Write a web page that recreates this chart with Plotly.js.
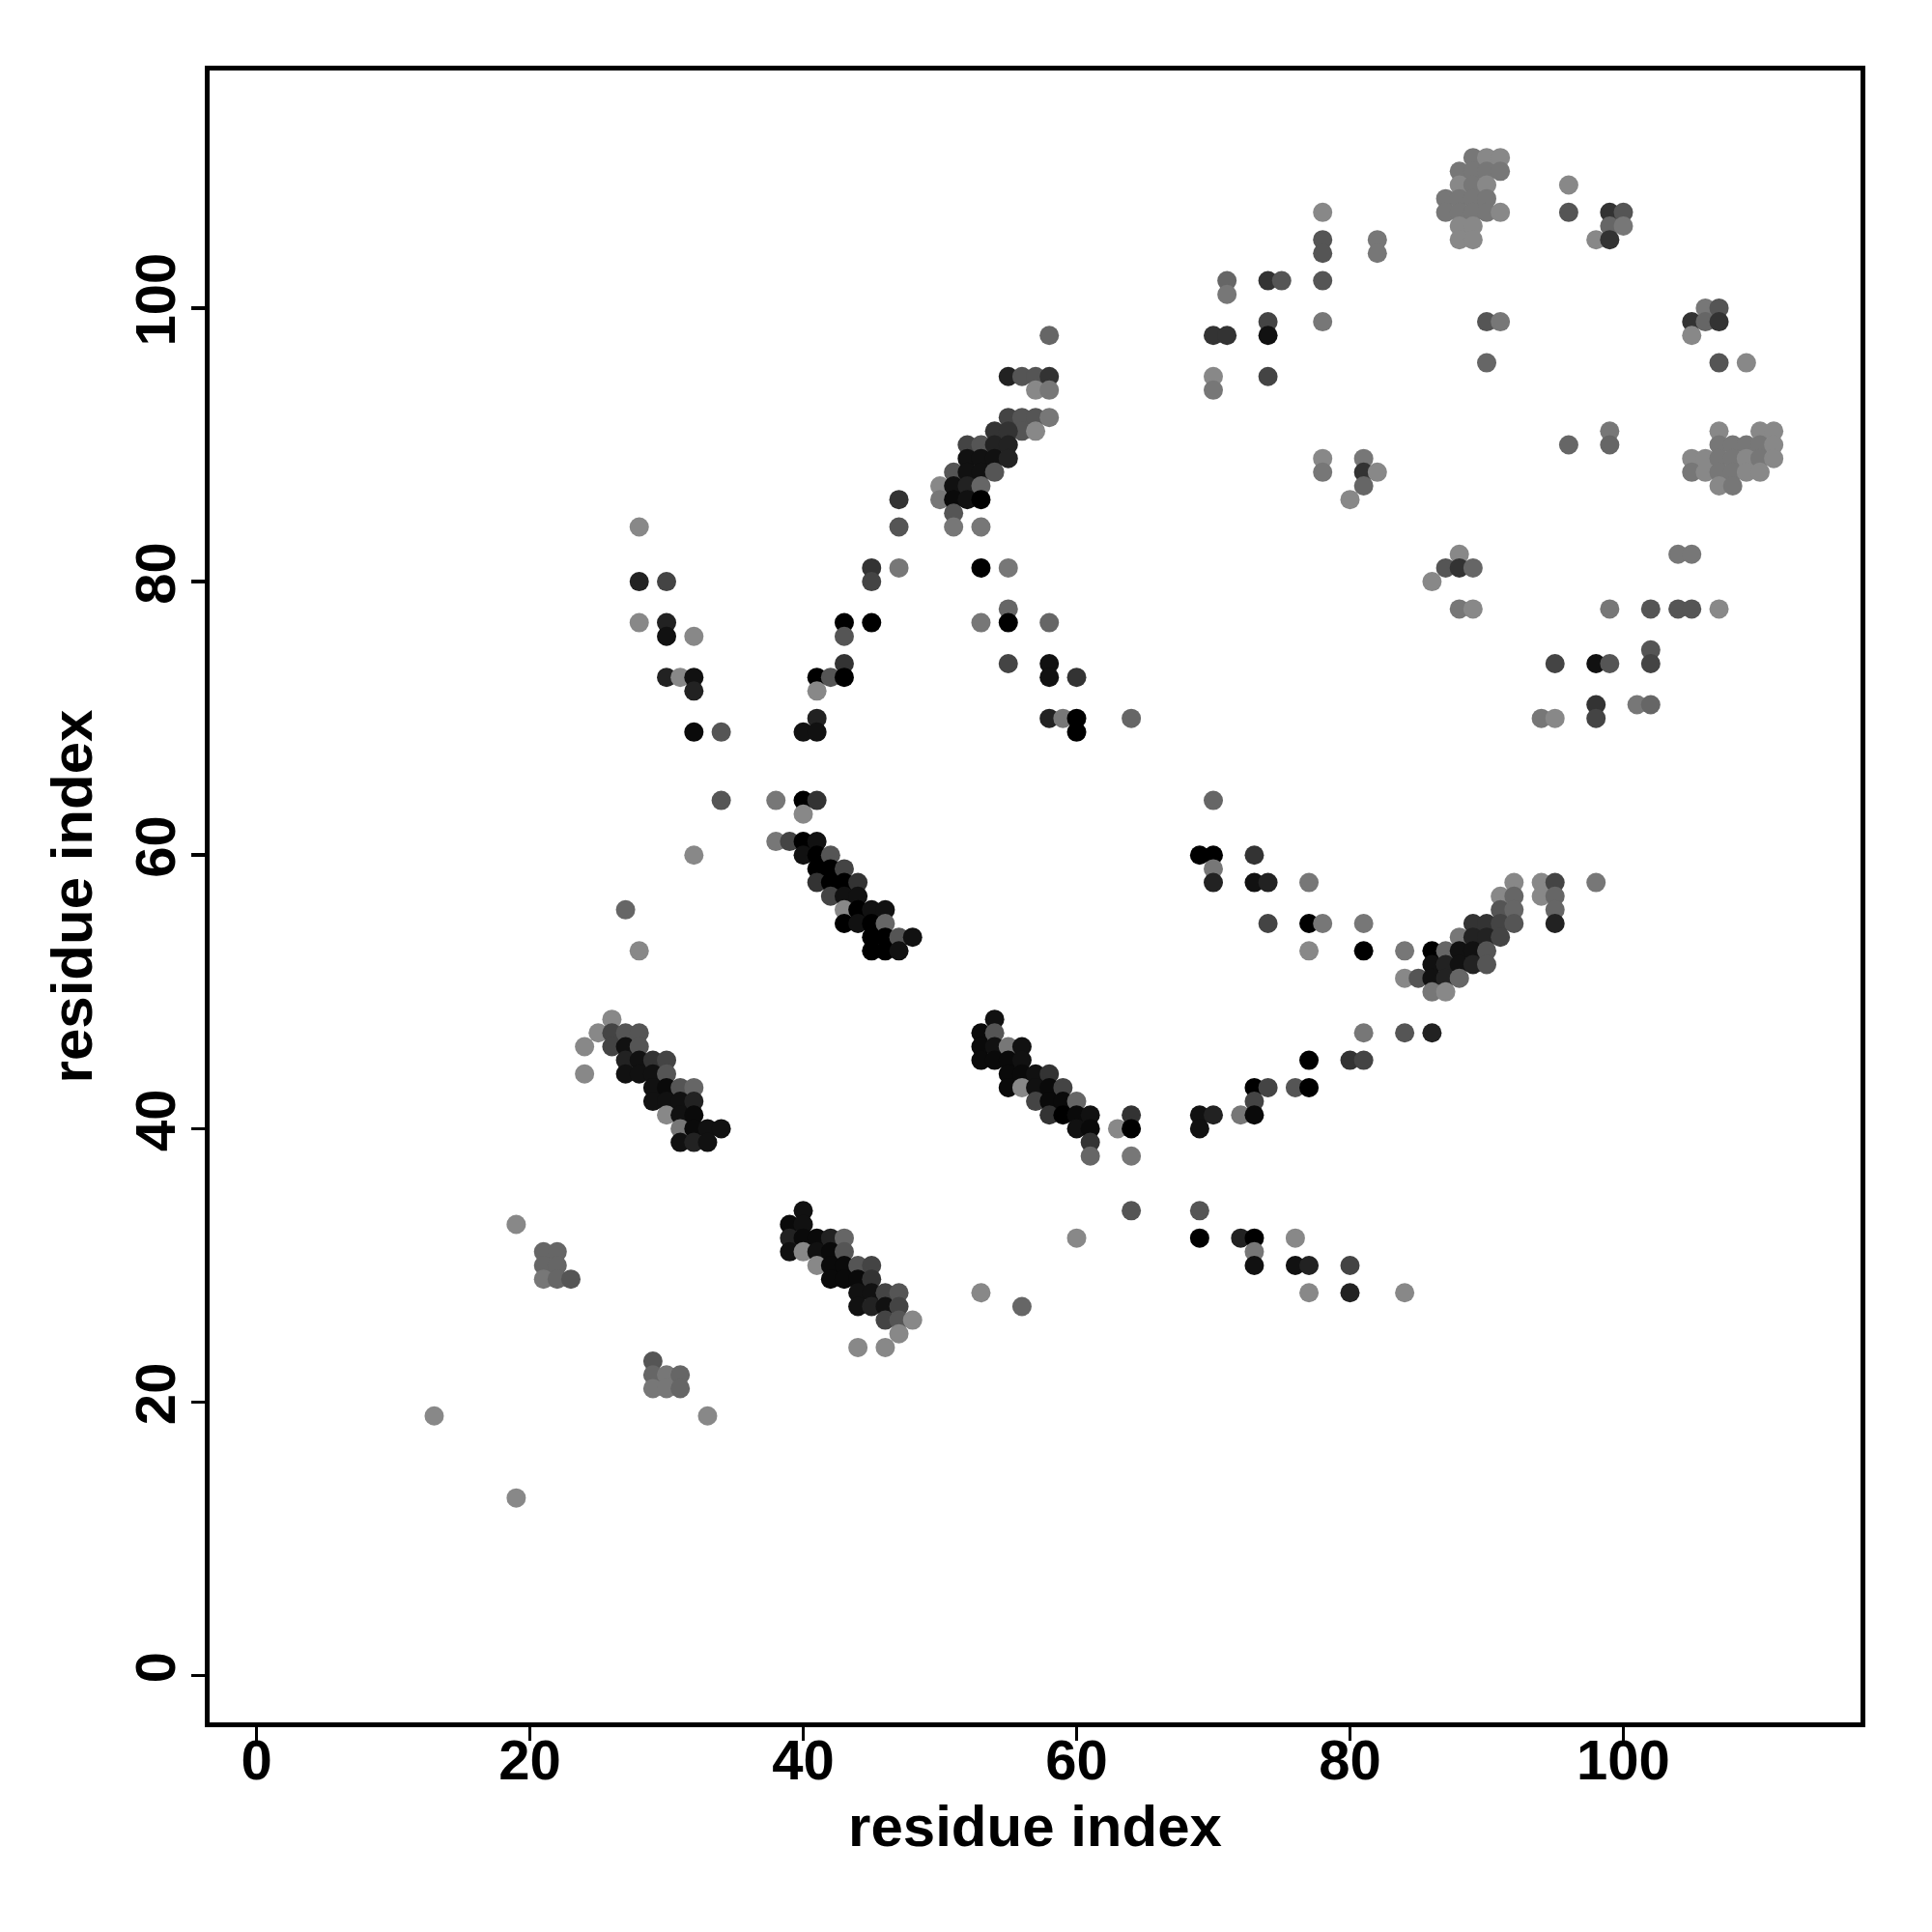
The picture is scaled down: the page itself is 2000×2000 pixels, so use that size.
<!DOCTYPE html>
<html><head><meta charset="utf-8">
<script src="https://cdn.plot.ly/plotly-3.0.1.min.js"></script>
<style>html,body{margin:0;padding:0;background:#fff}#plot{width:2000px;height:2000px}</style>
</head><body><div id="plot"></div>
<script>
// residue i (x), residue j (y), grey level of the contact (0 = black, 136 = light grey)
const resI = [
  28,28,30,45,45,28,30,30,32,30,31,32,32,32,34,43,45,43,43,41,42,43,41,41,40,41,34,38,40,41,40,32,38,39,40,41,40,41,42,41,42,43,41,42,43,44,42,43,44,43,44,45,43,44,45,45,45,46,46,46,47,48,46,47,27,28,
  24,25,26,26,27,28,26,27,28,27,28,29,30,24,27,28,29,30,29,30,31,32,29,30,31,32,30,31,32,31,32,33,34,31,32,33,
  19,21,22,21,22,21,22,23,29,29,30,31,29,30,31,33,13,19,
  40,39,40,39,40,41,42,43,39,40,41,42,43,41,42,43,44,45,42,43,44,45,44,45,44,45,44,46,47,46,47,46,47,48,47,46,
  54,53,54,53,54,55,56,53,54,55,56,55,56,57,58,55,56,57,58,59,57,58,59,60,58,59,60,61,60,61,61,61,63,64,64,64,
  69,70,69,72,73,74,73,73,76,77,64,69,60,69,72,73,76,73,73,76,77,80,77,80,56,53,84,
  53,55,55,58,55,58,58,60,58,59,60,60,64,70,69,70,70,70,73,73,74,77,74,77,78,81,77,81,81,77,80,81,
  78,78,78,78,78,71,71,74,75,70,71,74,74,70,70,74,58,
  55,56,57,58,57,58,55,56,57,58,56,57,54,55,52,53,54,55,52,53,54,55,51,52,53,54,50,51,52,53,50,51,52,53,51,51,53,47,47,47,53,55,78,78,81,81,81,80,
  89,90,91,88,89,90,91,88,89,90,87,88,89,90,87,88,89,90,91,88,89,88,89,82,82,96,96,99,100,99,100,98,99,90,91,90,106,107,105,106,107,105,107,109,96,99,99,
  107,110,111,107,108,109,110,111,105,106,107,108,109,110,111,105,106,107,108,109,110,107,108,104,105,88,87,88,89,86,82,
  88,89,99,102,104,105,107,102,102,95,98,99,98,98,101,102,94,95,
  92,94,95,98,91,92,94,95,91,92,95,89,90,91,92,95,88,89,90,91,84,86,87,88,89,90,86,87,88,89,90,84,85,86,87,88,86,87,84,86
];
const resJ = [
  84,80,80,81,80,77,77,76,76,73,73,73,72,69,69,77,77,76,74,73,73,73,72,70,69,69,64,64,64,64,63,60,61,61,61,61,60,60,60,59,59,59,58,58,58,58,57,57,57,56,56,56,55,55,55,54,53,56,55,54,54,54,53,53,56,53,
  46,47,48,47,47,47,46,46,46,45,45,45,45,44,44,44,44,44,43,43,43,43,42,42,42,42,41,41,41,40,40,40,40,39,39,39,
  33,31,31,30,30,29,29,29,23,22,22,22,21,21,21,19,19,13,
  34,33,33,32,32,32,32,32,31,31,31,31,31,30,30,30,30,30,29,29,29,29,28,28,27,27,24,28,28,27,27,26,26,26,25,24,
  48,47,47,46,46,46,46,45,45,45,45,44,44,44,44,43,43,43,43,43,42,42,42,42,41,41,41,41,40,40,39,38,40,41,40,38,
  41,41,40,41,43,43,42,41,43,43,34,34,32,32,32,32,32,31,30,30,30,30,28,28,27,28,28,
  77,78,77,77,74,74,73,73,70,70,70,69,70,64,60,60,59,58,60,58,58,58,55,55,55,55,53,53,47,45,45,45,
  107,105,104,102,99,102,101,102,102,98,98,99,98,95,94,95,98,
  95,95,95,95,94,94,92,92,92,92,91,91,91,91,90,90,90,90,89,89,89,89,88,88,88,88,87,87,87,87,86,86,86,86,85,84,84,86,84,81,81,81,89,88,89,88,87,86,
  111,111,111,110,110,110,110,109,109,109,108,108,108,108,107,107,107,107,107,106,106,105,105,105,104,109,107,107,107,106,106,105,105,99,99,96,100,100,99,99,99,98,96,96,90,91,90,
  91,91,91,90,90,90,90,90,89,89,89,89,89,89,89,88,88,88,88,88,88,87,87,82,82,82,81,81,81,80,88,
  78,78,78,78,78,78,78,75,74,74,74,74,71,70,71,71,70,70,
  58,58,58,58,57,57,57,57,56,56,56,55,55,55,55,55,54,54,54,54,53,53,53,53,53,53,52,52,52,52,52,51,51,51,51,51,50,50,47,47
];
const shade = [
  136,34,68,51,68,136,34,17,136,34,136,17,34,10,85,0,0,85,51,0,85,0,136,34,17,17,85,119,0,51,136,136,119,68,0,17,17,0,85,0,0,68,51,0,0,51,68,17,17,136,0,17,0,17,0,0,0,17,102,0,85,17,0,17,102,136,
  136,136,136,68,85,85,68,17,85,34,17,51,68,136,17,17,17,85,17,10,85,102,17,17,17,34,136,17,10,119,10,17,17,17,34,17,
  136,102,102,102,102,119,102,85,85,102,119,102,119,119,102,136,136,136,
  17,10,17,34,10,10,34,102,17,136,17,10,85,136,10,10,85,68,10,10,10,51,17,17,17,34,136,68,85,17,68,68,85,136,136,136,
  17,10,85,10,17,119,17,10,10,10,17,10,10,17,51,10,136,17,10,68,68,10,10,102,51,0,10,17,17,10,51,102,136,51,0,119,
  17,34,17,119,0,68,68,10,85,0,85,85,136,0,34,0,136,119,17,17,34,68,136,34,102,136,136,
  119,102,0,102,68,17,17,51,34,119,0,0,102,102,0,0,119,34,51,17,34,119,68,0,119,119,136,0,119,0,51,68,
  136,85,85,85,119,102,119,51,85,51,51,68,17,136,119,68,102,
  34,85,85,51,136,119,68,85,85,119,85,136,51,51,68,85,34,34,17,17,17,34,85,17,17,85,136,17,34,102,119,10,17,0,85,119,119,51,85,119,0,119,136,119,119,51,102,136,
  119,136,136,119,119,119,119,136,119,136,119,119,119,119,119,119,119,119,136,136,136,136,136,119,119,136,85,51,85,102,119,136,51,85,119,102,119,85,51,102,51,136,85,136,102,119,102,
  136,136,136,119,119,119,119,136,136,136,119,119,136,119,136,119,136,119,119,136,136,136,119,119,119,136,85,51,102,136,136,
  119,136,119,85,85,85,136,85,68,68,17,85,51,68,119,102,119,136,
  136,136,68,119,136,102,136,102,85,102,102,51,51,68,85,34,119,34,34,68,119,0,102,17,17,85,17,34,17,34,85,136,85,17,34,102,119,136,85,34
];
const tickVals = [0, 20, 40, 60, 80, 100];
const axisTitle = 'residue index';

const colors = shade.map(g => 'rgb(' + g + ',' + g + ',' + g + ')');
const trace = {
  x: resI, y: resJ, type: 'scatter', mode: 'markers',
  marker: {symbol: 'circle', size: 20, color: colors, line: {width: 0}},
  hoverinfo: 'skip'
};
const tickFont = {family: 'Liberation Sans, Arial, Helvetica, sans-serif', size: 58, color: '#000', weight: 'bold'};
const titleFont = {family: 'Liberation Sans, Arial, Helvetica, sans-serif', size: 60, color: '#000', weight: 'bold'};
const axisBase = {
  tickmode: 'array', tickvals: tickVals, ticktext: tickVals.map(String),
  ticks: 'outside', ticklen: 14, tickwidth: 3.5, tickcolor: '#000',
  showline: true, linewidth: 5, linecolor: '#000', mirror: true,
  showgrid: false, zeroline: false, tickfont: tickFont, automargin: false
};
const layout = {
  width: 2000, height: 2000,
  margin: {l: 217, r: 74, t: 73, b: 217},
  paper_bgcolor: '#fff', plot_bgcolor: '#fff', showlegend: false,
  xaxis: Object.assign({}, axisBase, {range: [-3.43, 117.35], ticklabelstandoff: -30,
    title: {text: axisTitle, font: titleFont, standoff: 18}}),
  yaxis: Object.assign({}, axisBase, {range: [-3.41, 117.37], tickangle: -90, ticklabelstandoff: -6,
    title: {text: axisTitle, font: titleFont, standoff: 14}})
};
Plotly.newPlot('plot', [trace], layout, {staticPlot: true});
</script>
</body></html>
